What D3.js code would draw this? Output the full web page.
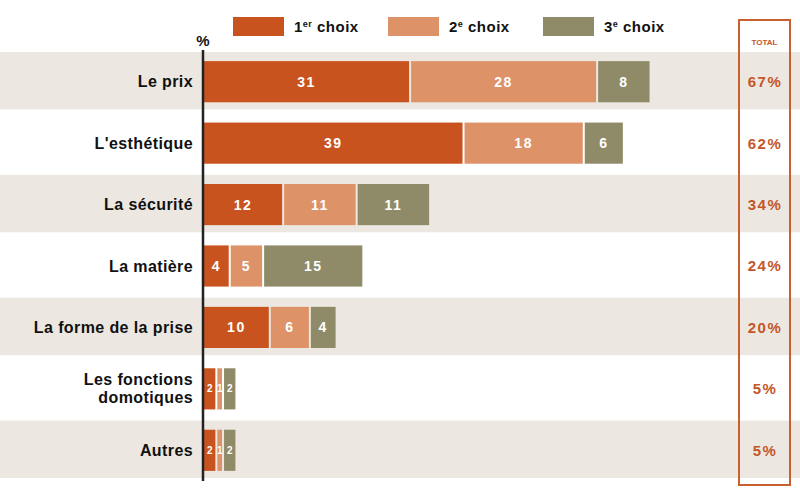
<!DOCTYPE html>
<html>
<head>
<meta charset="utf-8">
<script src="https://d3js.org/d3.v7.min.js"></script>
<style>
  body { margin: 0; background: #fff; }
  text { font-family: "Liberation Sans", Arial, sans-serif; font-weight: bold; }
</style>
</head>
<body>
<script>
    var width = 800, height = 488;

    // data
    var categories = ["Le prix", "L'esthétique", "La sécurité", "La matière",
                      "La forme de la prise", "Les fonctions domotiques", "Autres"];
    var choix1 = [31, 39, 12, 4, 10, 2, 2];
    var choix2 = [28, 18, 11, 5, 6, 1, 1];
    var choix3 = [8, 6, 11, 15, 4, 2, 2];
    var totals = ["67%", "62%", "34%", "24%", "20%", "5%", "5%"];
    var seriesNames = ["1er choix", "2e choix", "3e choix"];
    var colors = ["#c9531f", "#dd9268", "#8f8b68"];

    var svg = d3.select("body").append("svg")
        .attr("width", width)
        .attr("height", height);

    var axisX = 203;

    var x = d3.scaleLinear().domain([0, 100]).range([axisX, axisX + 668]);

    var rows = d3.scaleBand().domain(categories).range([51, 481]);
    var y = d3.scaleBand().domain(categories).range([51, 481]).paddingInner(0.33).paddingOuter(0.165);

    // alternating background bands
    svg.selectAll("rect.band")
        .data(categories.filter(function(d, i) { return i % 2 === 0; }))
        .enter().append("rect")
        .attr("class", "band")
        .attr("x", 0)
        .attr("y", function(d) { return rows(d) + 1; })
        .attr("width", width)
        .attr("height", rows.bandwidth() - 4)
        .attr("fill", "#ece8e1");

    // stack the three choices
    var table = categories.map(function(c, i) {
        return { cat: c, c1: choix1[i], c2: choix2[i], c3: choix3[i] };
    });
    var stack = d3.stack().keys(["c1", "c2", "c3"])(table);

    var layer = svg.selectAll("g.layer")
        .data(stack)
        .enter().append("g")
        .attr("class", "layer")
        .attr("fill", function(d, i) { return colors[i]; });

    layer.selectAll("rect")
        .data(function(d) { return d; })
        .enter().append("rect")
        .attr("x", function(d) { return x(d[0]) + (d[0] > 0 ? 1 : 0); })
        .attr("y", function(d) { return y(d.data.cat); })
        .attr("width", function(d) { return Math.max(0, x(d[1]) - x(d[0]) - (d[0] > 0 ? 2 : 1)); })
        .attr("height", y.bandwidth());

    layer.selectAll("text")
        .data(function(d) { return d; })
        .enter().append("text")
        .attr("x", function(d) { return (x(d[0]) + x(d[1])) / 2; })
        .attr("y", function(d) { return y(d.data.cat) + y.bandwidth() / 2; })
        .attr("dy", "0.36em")
        .attr("text-anchor", "middle")
        .attr("fill", "#fff")
        .attr("font-size", function(d) { return (d[1] - d[0]) < 3 ? "10px" : "14px"; })
        .attr("letter-spacing", function(d) { return (d[1] - d[0]) < 3 ? "0px" : "1.5px"; })
        .text(function(d) { return d[1] - d[0]; });

    // category labels
    var labels = svg.selectAll("text.cat")
        .data(categories)
        .enter().append("text")
        .attr("class", "cat")
        .attr("x", axisX - 10)
        .attr("y", function(d) { return y(d) + y.bandwidth() / 2; })
        .attr("text-anchor", "end")
        .attr("font-size", "16px")
        .attr("letter-spacing", "0.4px")
        .attr("fill", "#111");

    labels.each(function(d) {
        var t = d3.select(this);
        if (d === "Les fonctions domotiques") {
            t.append("tspan").attr("x", axisX - 10).attr("dy", "-0.25em").text("Les fonctions");
            t.append("tspan").attr("x", axisX - 10).attr("dy", "1.15em").text("domotiques");
        } else {
            t.attr("dy", "0.36em").text(d);
        }
    });

    // vertical axis line
    svg.append("line")
        .attr("x1", axisX).attr("x2", axisX)
        .attr("y1", 50).attr("y2", 481)
        .attr("stroke", "#222")
        .attr("stroke-width", 2.5);

    svg.append("text")
        .attr("x", axisX)
        .attr("y", 46)
        .attr("text-anchor", "middle")
        .attr("font-size", "15px")
        .attr("fill", "#111")
        .text("%");

    // legend
    var legendX = [233, 388, 543];
    var legend = svg.selectAll("g.legend")
        .data(seriesNames)
        .enter().append("g")
        .attr("class", "legend")
        .attr("transform", function(d, i) { return "translate(" + legendX[i] + ",17)"; });

    legend.append("rect")
        .attr("width", 51)
        .attr("height", 19)
        .attr("fill", function(d, i) { return colors[i]; });

    legend.each(function(d) {
        var t = d3.select(this).append("text")
            .attr("x", 61)
            .attr("y", 15)
            .attr("font-size", "15px")
            .attr("letter-spacing", "0.5px")
            .attr("fill", "#111");
        t.append("tspan").text(d.charAt(0));
        t.append("tspan").attr("font-size", "9px").attr("dy", "-5").text(d.slice(1, d.indexOf(" ")));
        t.append("tspan").attr("dy", "5").text(d.slice(d.indexOf(" ")));
    });

    // total column
    svg.append("rect")
        .attr("x", 739)
        .attr("y", 20)
        .attr("width", 51)
        .attr("height", 465)
        .attr("fill", "none")
        .attr("stroke", "#c8602f")
        .attr("stroke-width", 2);

    svg.append("text")
        .attr("x", 764.5)
        .attr("y", 45)
        .attr("text-anchor", "middle")
        .attr("font-size", "8px")
        .attr("fill", "#c4562a")
        .text("TOTAL");

    svg.selectAll("text.total")
        .data(totals)
        .enter().append("text")
        .attr("class", "total")
        .attr("x", 765)
        .attr("y", function(d, i) { return y(categories[i]) + y.bandwidth() / 2; })
        .attr("dy", "0.36em")
        .attr("text-anchor", "middle")
        .attr("font-size", "15px")
        .attr("letter-spacing", "1.5px")
        .attr("fill", "#c4562a")
        .text(function(d) { return d; });
</script>
</body>
</html>
